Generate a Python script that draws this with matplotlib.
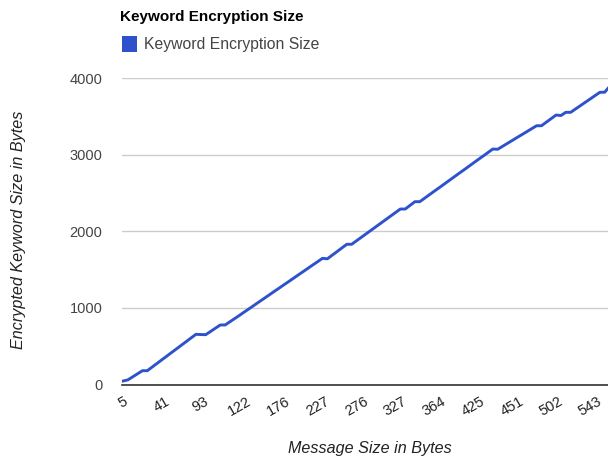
import numpy as np
import matplotlib
matplotlib.use("Agg")
import matplotlib.pyplot as plt
from matplotlib.patches import Patch

plt.rcParams['font.family'] = ['Liberation Sans', 'DejaVu Sans']

# message sizes shown on the axis (every 8th category)
x_labels = ['5', '41', '93', '122', '176', '227', '276', '327', '364', '425', '451', '502', '543']
label_step = 8

# encrypted keyword size (bytes), one value per message-size category
enc_size = [45, 60, 100, 140, 180, 180, 228, 275, 323, 370,
            418, 465, 513, 560, 608, 655, 652, 650, 692, 735,
            777, 777, 820, 862, 905, 949, 992, 1036, 1080, 1123,
            1167, 1211, 1254, 1298, 1341, 1385, 1429, 1472, 1516, 1560,
            1603, 1647, 1640, 1688, 1735, 1783, 1830, 1830, 1876, 1922,
            1968, 2014, 2060, 2106, 2152, 2198, 2244, 2290, 2290, 2338,
            2386, 2386, 2432, 2478, 2524, 2569, 2615, 2661, 2707, 2753,
            2798, 2844, 2890, 2936, 2981, 3027, 3073, 3070, 3108, 3147,
            3185, 3224, 3262, 3300, 3339, 3377, 3377, 3424, 3470, 3517,
            3510, 3552, 3552, 3596, 3639, 3683, 3726, 3770, 3813, 3815,
            3890]

series_name = "Keyword Encryption Size"
col = '#2d52cc'
txt = '#444444'

fig = plt.figure(figsize=(6.08, 4.57), dpi=100)
ax = fig.add_axes([122/608, 72.5/457, 486/608, 306.5/457])

idx = np.arange(len(enc_size))
ax.plot(idx, enc_size, color=col, lw=2.1, solid_joinstyle='round', clip_on=True)

ax.set_xlim(-0.2, 99.67)
ax.set_ylim(0, 4000)
ax.set_yticks([0, 1000, 2000, 3000, 4000])
ax.set_yticklabels(['0', '1000', '2000', '3000', '4000'], fontsize=10.5, color=txt)
ax.set_xticks(idx[::label_step][:len(x_labels)])
ax.set_xticklabels(x_labels, rotation=30, ha='center', fontsize=10.5, color='#222222')
ax.tick_params(axis='y', length=0, pad=14)
ax.tick_params(axis='x', length=0, pad=7)
ax.grid(axis='y', color='#cccccc', lw=1)
ax.set_axisbelow(True)
for s in ['top', 'right', 'left']:
    ax.spines[s].set_visible(False)
ax.spines['bottom'].set_color('#333333')
ax.spines['bottom'].set_linewidth(1.2)

fig.text(19/608, 1 - 230/457, "Encrypted Keyword Size in Bytes", rotation=90,
         ha='center', va='center', style='italic', fontsize=11.6, color='#222222')
fig.text(370/608, 1 - 449/457, "Message Size in Bytes", ha='center', va='center',
         style='italic', fontsize=11.6, color='#222222')

fig.text(120/608, 1 - 17/457, "Keyword Encryption Size", ha='left', va='center',
         fontsize=11, fontweight='bold', color='black')
fig.legend(handles=[Patch(facecolor=col, edgecolor='none', label=series_name)],
           loc='center left', bbox_to_anchor=(108/608, 1 - 44/457), frameon=False,
           fontsize=11.3, handlelength=0.95, handleheight=1.15, handletextpad=0.45,
           labelcolor=txt)

fig.savefig('out.png', dpi=100)
